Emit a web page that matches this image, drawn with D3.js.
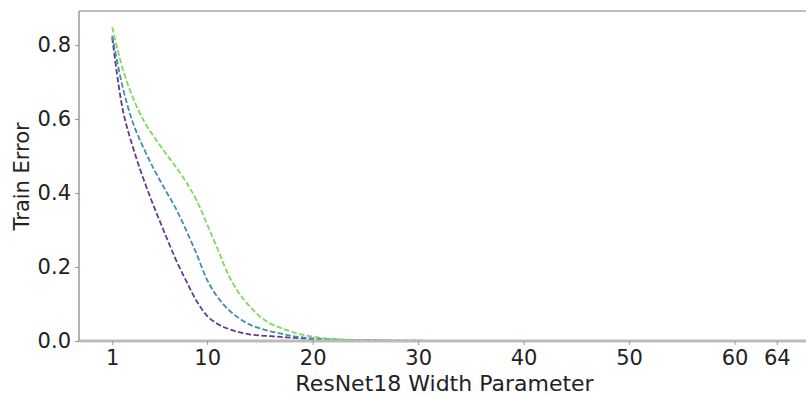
<!DOCTYPE html>
<html>
<head>
<meta charset="utf-8">
<script src="https://cdn.jsdelivr.net/npm/d3@7"></script>
<style>
  body { margin: 0; background: #fff; overflow: hidden; }
  svg { display: block; font-family: "DejaVu Sans", sans-serif; }
</style>
</head>
<body>
<svg id="chart"></svg>
<script>
// widths 1..64
const widths = d3.range(1, 65);
const xTicks = [1, 10, 20, 30, 40, 50, 60, 64];
const yTicks = [0, 0.2, 0.4, 0.6, 0.8];

const purple = [0.82, 0.625, 0.52, 0.435, 0.36, 0.29, 0.222, 0.163, 0.108, 0.068,
  0.046, 0.033, 0.024, 0.018, 0.015, 0.013, 0.011, 0.009, 0.007, 0.005,
  0.004, 0.003, 0.003, 0.002, 0.002, 0.002, 0.001, 0.001, 0.001, 0.001];
const teal = [0.825, 0.685, 0.587, 0.52, 0.462, 0.41, 0.36, 0.30, 0.235, 0.165,
  0.118, 0.085, 0.062, 0.045, 0.034, 0.026, 0.02, 0.014, 0.01, 0.007,
  0.005, 0.004, 0.003, 0.002, 0.002, 0.002, 0.001, 0.001, 0.001, 0.001];
const green = [0.848, 0.735, 0.655, 0.595, 0.55, 0.51, 0.472, 0.43, 0.38, 0.315,
  0.248, 0.18, 0.13, 0.095, 0.066, 0.047, 0.035, 0.025, 0.017, 0.012,
  0.008, 0.006, 0.004, 0.003, 0.002, 0.002, 0.002, 0.001, 0.001, 0.001];

const series = [
  { name: 'a', values: purple, color: '#66388f' },
  { name: 'b', values: teal, color: '#3f8fb0' },
  { name: 'c', values: green, color: '#80d858' }
];

const width = 806;
const height = 395;
const margin = { top: 11, bottom: 54, left: 79, right: -4 };
const innerWidth = width - margin.left - margin.right;
const innerHeight = height - margin.top - margin.bottom;

const svg = d3.select('#chart')
  .attr('width', width)
  .attr('height', height);

const g = svg.append('g')
  .attr('transform', `translate(${margin.left}, ${margin.top})`);

const xScale = d3.scaleLinear().domain([-2.15, 67.15]).range([0, innerWidth]);
const yScale = d3.scaleLinear().domain([0, 0.892]).range([innerHeight, 0]);

// top frame line
g.append('line')
  .attr('x1', 0).attr('x2', innerWidth).attr('y1', 0).attr('y2', 0)
  .attr('stroke', '#aaa').attr('stroke-width', 1.5);

const line = d3.line()
  .x((d, i) => xScale(widths[i]))
  .y(d => yScale(d))
  .curve(d3.curveCatmullRom.alpha(0.5));

series.forEach(s => {
  const vals = widths.map((w, i) => (i < s.values.length ? s.values[i] : 0));
  g.append('path')
    .datum(vals)
    .attr('fill', 'none')
    .attr('stroke', s.color)
    .attr('stroke-width', 1.8)
    .attr('stroke-dasharray', '5.5,2.4')
    .attr('d', line);
});

const xAxis = g.append('g')
  .attr('class', 'axis axis--x')
  .attr('transform', `translate(0, ${innerHeight})`)
  .call(d3.axisBottom(xScale).tickValues(xTicks).tickSize(4).tickPadding(5));

const yAxis = g.append('g')
  .attr('class', 'axis axis--y')
  .call(d3.axisLeft(yScale).tickValues(yTicks).tickFormat(d3.format('.1f')).tickSize(4).tickPadding(4));

xAxis.select('.domain').attr('stroke', '#bbb').attr('stroke-width', 3)
  .attr('d', `M0,0H${innerWidth}`);
yAxis.select('.domain').attr('stroke', '#999').attr('stroke-width', 1.5)
  .attr('d', `M0,0V${innerHeight}`);
svg.selectAll('.tick line').attr('stroke', '#999');
svg.selectAll('.tick text').attr('font-size', 21).attr('fill', '#222')
  .attr('font-family', '"DejaVu Sans", sans-serif');

g.append('text')
  .attr('x', xScale(32.5))
  .attr('y', innerHeight + 50)
  .attr('text-anchor', 'middle')
  .attr('font-size', 22)
  .attr('fill', '#222')
  .text('ResNet18 Width Parameter');

g.append('text')
  .attr('transform', `translate(${-margin.left + 29}, ${yScale(0.445)}) rotate(-90)`)
  .attr('text-anchor', 'middle')
  .attr('font-size', 21)
  .attr('fill', '#222')
  .text('Train Error');
</script>
</body>
</html>
